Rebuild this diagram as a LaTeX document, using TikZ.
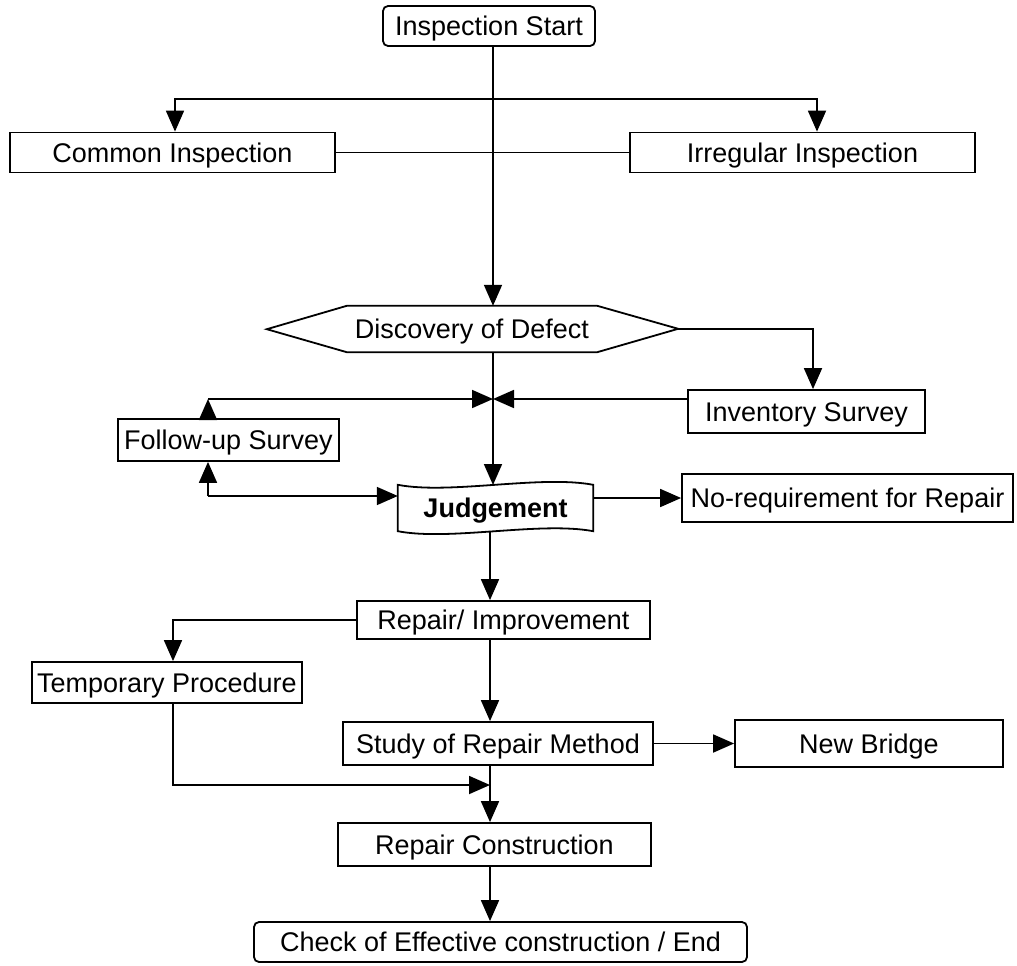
\documentclass[tikz,border=0pt]{standalone}
\usepackage{fontspec}
\setmainfont{Liberation Sans}
\usetikzlibrary{arrows.meta}

\begin{document}
\begin{tikzpicture}[x=1pt,y=-1pt,
  every node/.style={font=\fontsize{27}{31}\selectfont, inner sep=0pt, text height=19pt, text depth=0pt},
  box/.style={draw, line width=1.8pt, rectangle, minimum height=42pt},
  roundbox/.style={box, rounded corners=5pt},
  link/.style={line width=1.8pt},
  arr/.style={link, -{Triangle[length=21pt,width=18pt]}},
]
\useasboundingbox (0,0) rectangle (1017,966);

% boxes
\node[roundbox, minimum width=212pt, minimum height=40pt] (start) at (489,26) {Inspection Start};
\node[box, minimum width=325pt, minimum height=40pt] (common) at (172.5,152.5) {Common Inspection};
\node[box, minimum width=345pt, minimum height=40pt] (irreg) at (802.5,152.5) {Irregular Inspection};
\node[minimum width=250pt, minimum height=46pt] (disc) at (472,329) {Discovery of Defect};
\node[box, minimum width=237pt, minimum height=43pt] (inv) at (806.5,411.5) {Inventory Survey};
\node[box, minimum width=221pt, minimum height=42pt] (follow) at (228.5,440) {Follow-up Survey};
\node[minimum width=195pt, minimum height=46pt, font=\fontsize{27}{31}\selectfont\bfseries] (judge) at (495.5,508) {Judgement};
\node[box, minimum width=331pt, minimum height=48pt] (noreq) at (847.5,498) {No-requirement for Repair};
\node[box, minimum width=293pt, minimum height=38pt] (repair) at (503.5,620) {Repair/ Improvement};
\node[box, minimum width=270pt, minimum height=41pt] (temp) at (167,682.5) {Temporary Procedure};
\node[box, minimum width=310pt, minimum height=43pt] (study) at (498,743.5) {Study of Repair Method};
\node[box, minimum width=268pt, minimum height=47pt] (newb) at (869,743.5) {New Bridge};
\node[box, minimum width=313pt, minimum height=43pt] (constr) at (494.5,844.5) {Repair Construction};
\node[roundbox, minimum width=493pt, minimum height=40pt] (check) at (500.5,942) {Check of Effective construction / End};

% hexagon outline of the decision
\draw[link] (disc.north west) -- (disc.north east) -- ++(81,23) coordinate (discE)
  -- (disc.south east) -- (disc.south west) -- ++(-80,-23) coordinate (discW) -- cycle;

% wavy outline of the judgement
\draw[link] (judge.north west) .. controls +(52,10) and +(-53,-10) .. (judge.north east)
  -- (judge.south east) .. controls +(-53,-10) and +(52,10) .. (judge.south west) -- cycle;

% guide coordinates
\coordinate (mx) at (493,0);
\coordinate (mx2) at (490,0);
\coordinate (split) at (493,99);
\coordinate (cL) at (175,99);
\coordinate (cR) at (817,99);
\coordinate (invx) at (813,0);
\coordinate (jn) at (493,399);
\coordinate (fx) at (208,399);
\coordinate (fb) at (208,496);
\coordinate (jtop) at (493,485);
\coordinate (jbot) at (490,531);
\coordinate (tx) at (173,0);
\coordinate (mg) at (490,785);

% connectors
\draw[arr] (start.south -| mx) -- (disc.north -| mx);
\draw[arr] (split) -- (cL) -- (cL |- common.north);
\draw[arr] (split) -- (cR) -- (cR |- irreg.north);
\draw[link] (common.east) -- (irreg.west);

\draw[arr] (discE) -- (discE -| invx) -- (invx |- inv.north);
\draw[arr] (inv.west |- jn) -- (jn);
\draw[arr] (fx |- follow.north) -- (fx);
\draw[arr] (fx) -- (jn);
\draw[arr] (disc.south -| mx) -- (jtop);

\draw[arr] (fb) -- (fb |- follow.south);
\draw[arr] (fb) -- (fb -| judge.west);
\draw[arr] (judge.east |- noreq.west) -- (noreq.west);

\draw[arr] (jbot) -- (jbot |- repair.north);
\draw[arr] (repair.west) -| (tx |- temp.north);
\draw[arr] (repair.south -| mx2) -- (study.north -| mx2);
\draw[arr] (study.east) -- (newb.west);
\draw[arr] (temp.south -| tx) |- (mg);
\draw[arr] (study.south -| mx2) -- (constr.north -| mx2);
\draw[arr] (constr.south -| mx2) -- (check.north -| mx2);
\end{tikzpicture}
\end{document}
